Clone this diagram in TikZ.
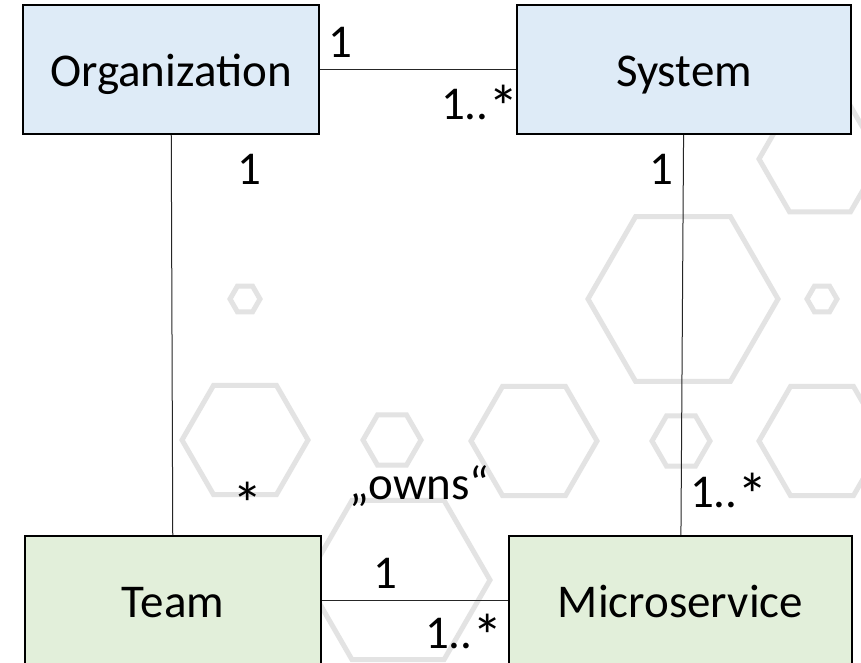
\documentclass[tikz,border=0pt]{standalone}
\usepackage{fontspec}
\setmainfont{Carlito}
\usepackage{xcolor}

\definecolor{sysblue}{HTML}{DEEBF7}
\definecolor{teamgreen}{HTML}{E2EFDA}
\definecolor{hexgray}{HTML}{E3E3E3}

% bigger star, like the one of the original font
\newcommand{\mstar}{\raisebox{-0.2em}{\scalebox{1.3}{*}}}

\tikzset{
  umlclass/.style={draw=black, line width=2pt, minimum height=129pt,
    text height=33pt, text depth=0pt, inner sep=0pt,
    font=\fontsize{47}{56}\selectfont},
  mult/.style={anchor=base, inner sep=0pt, font=\fontsize{47}{56}\selectfont},
  assoc/.style={line width=1pt, black!85},
  hexcell/.style={hexgray, line width=5pt, line join=miter}
}

\begin{document}
\begin{tikzpicture}[x=1pt,y=-1pt]
          \clip (0,0) rectangle (861,662);
          \fill[white] (0,0) rectangle (861,662);

          % hexagons in the back
          \foreach \cx/\cy/\r in {683/299/95, 820/159/61, 245/299/15, 822/299/15,
                                  245/440/63, 392/440/29, 534/441/63, 681/441/29,
                                  822/441/63, 398/580/92}
            \draw[hexcell] (\cx,\cy) ++(0:\r) -- ++(120:\r) -- ++(180:\r)
              -- ++(240:\r) -- ++(300:\r) -- ++(0:\r) -- cycle;

          \node[umlclass, fill=sysblue, minimum width=296pt] (org) at (171,69.5) {Organization};
          \node[umlclass, fill=sysblue, minimum width=334pt] (sys) at (684,69.5) {System};
          \node[umlclass, fill=teamgreen, minimum width=296pt] (team) at (173,600.5) {Team};
          \node[umlclass, fill=teamgreen, minimum width=343pt] (ms) at (680.5,600.5) {Microservice};

          \draw[assoc] (org) -- (sys);
          \draw[assoc] (org) -- (team);
          \draw[assoc] (sys) -- (ms);
          \draw[assoc] (team) -- (ms);

          % multiplicities
          \node[mult] (orgsysone) at (340,57) {1};
          \node[mult] (orgsysmany) at (480,119) {1..\mstar};
          \node[mult] (orgteamone) at (249,184) {1};
          \node[mult] (sysmsone) at (661,184) {1};
          \node[mult] (orgteammany) at (248,516) {\mstar};
          \node[mult] (owns) at (419,499) {„owns“};
          \node[mult] (sysmsmany) at (729,507) {1..\mstar};
          \node[mult] (teammsone) at (385,588) {1};
          \node[mult] (teammsmany) at (464,648) {1..\mstar};

          \end{tikzpicture}
\end{document}
